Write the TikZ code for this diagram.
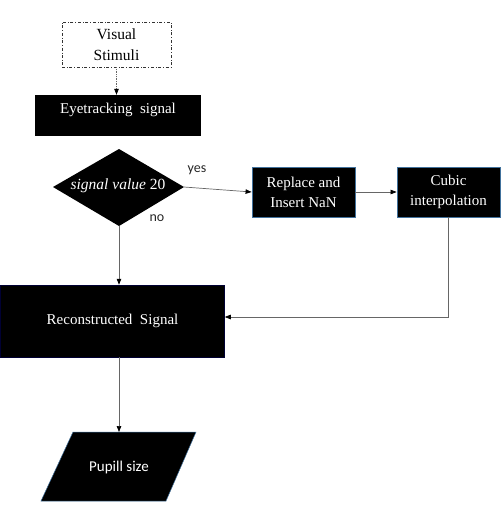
\documentclass[tikz,border=0pt]{standalone}
\usepackage{fontspec}
\setmainfont{Liberation Serif}
\newfontfamily\sansfnt{Carlito}
\usetikzlibrary{arrows.meta}
\begin{document}
\begin{tikzpicture}[x=1pt,y=-1pt,
  blk/.style={fill=black,text=white,inner sep=0pt,align=center,font=\fontsize{15}{20}\selectfont},
  blu/.style={draw={rgb,255:red,65;green,113;blue,156},line width=0.8pt},
  conn/.style={draw=black!60,line width=0.7pt,-{Triangle[length=6pt,width=4.5pt,fill=black,color=black]}},
  lbl/.style={font=\sansfnt\fontsize{14}{16}\selectfont,text=black!85}]
\useasboundingbox (0,0) rectangle (501,509);
\node[draw=black!80,dash dot,line width=0.6pt,minimum width=109pt,minimum height=45pt,align=center,inner sep=0pt,font=\fontsize{15.5}{21}\selectfont] (vis) at (116.5,44.5) {Visual\\Stimuli};
\node[blk,minimum width=166pt,minimum height=41pt] (eye) at (118,115.5) {};
\node[text=white,inner sep=0pt,font=\fontsize{15}{20}\selectfont] (eyet) at (118,110) {Eyetracking\ \ signal};
\fill[black] (53,187) -- (119,149) -- (184,187) -- (119,226) -- cycle;
\coordinate (diaR) at (184,187);
\coordinate (diaB) at (119,226);
\node[text=white,font=\fontsize{15.5}{18}\selectfont,inner sep=0pt] (dtext) at (118,186) {\textit{signal value} 20};
\node[blk,blu,minimum width=103pt,minimum height=50pt] (rep) at (303.5,192) {Replace and\\Insert NaN};
\node[blk,blu,minimum width=103pt,minimum height=50pt] (cub) at (448.5,192) {Cubic\\interpolation};
\node[blk,draw=black!80!blue,line width=0.5pt,minimum width=224pt,minimum height=72pt] (rec) at (112.5,321) {Reconstructed\ \ Signal};
\fill[black,draw={rgb,255:red,65;green,113;blue,156},line width=0.5pt] (73,432) -- (196,432) -- (166,501) -- (41,501) -- cycle;
\coordinate (puptop) at (119,432);
\node[font=\sansfnt\fontsize{15}{18}\selectfont,text=white] (pup) at (119,467) {Pupill size};
\node[lbl] (yes) at (197,170) {yes};
\node[lbl] (no) at (157,218) {no};
\draw[conn,densely dotted] (vis.south) -- (vis.south |- eye.north);
\draw[conn] (diaR) -- (rep.west);
\draw[conn] (rep.east) -- (cub.west);
\draw[conn] (diaB) -- (diaB |- rec.north);
\draw[conn] (cub.south) -- ([yshift=4pt]cub.south |- rec.east) -- ([yshift=4pt]rec.east);
\draw[conn] (diaB |- rec.south) -- (puptop);
\end{tikzpicture}
\end{document}
